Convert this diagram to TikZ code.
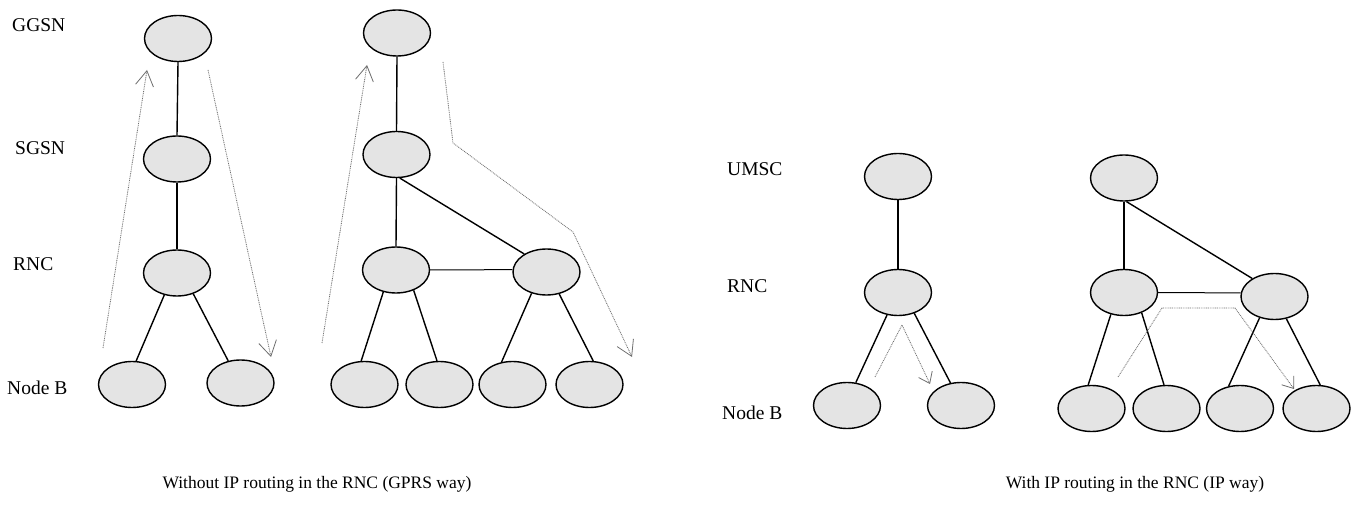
\documentclass[tikz,border=0pt]{standalone}
\usepackage{fontspec}
\setmainfont{Liberation Serif}
\usetikzlibrary{shapes.geometric,arrows.meta}
\definecolor{nodefill}{HTML}{E4E4E4}
\definecolor{flowgray}{HTML}{6E6E6E}
\begin{document}
\begin{tikzpicture}[x=1pt,y=-1pt,
  netnode/.style={ellipse,draw=black,line width=1.4pt,fill=nodefill,minimum width=67pt,minimum height=46pt,inner sep=0pt},
  link/.style={draw=black,line width=1.4pt},
  flow/.style={draw=flowgray,line width=0.8pt,dash pattern=on 0.9pt off 0.9pt,-{Straight Barb[length=15pt,width=18pt,line width=0.8pt]}},
  smallflow/.style={draw=flowgray,line width=0.8pt,dash pattern=on 0.9pt off 0.9pt,-{Straight Barb[length=10pt,width=15pt,line width=0.8pt]}},
  lbl/.style={anchor=west,inner sep=0pt,font=\fontsize{19.5}{23}\selectfont},
  captxt/.style={anchor=base,inner sep=0pt,font=\fontsize{17.5}{21}\selectfont}]
\useasboundingbox (0,0) rectangle (1360,510);
\fill[white] (0,0) rectangle (1360,510);

% ---------- labels ----------
\node[lbl] (lggsn) at (12,25) {GGSN};
\node[lbl] (lsgsn) at (15,148) {SGSN};
\node[lbl] (lrnc1) at (13,264.5) {RNC};
\node[lbl] (lnb1) at (7,388) {Node B};
\node[lbl] (lumsc) at (727,169) {UMSC};
\node[lbl] (lrnc2) at (727,286.5) {RNC};
\node[lbl] (lnb2) at (722,412.5) {Node B};

% ---------- diagram 1 ----------
\node[netnode] (a1) at (178,38.5) {};
\node[netnode] (a2) at (177,159) {};
\node[netnode] (a3) at (177,273) {};
\node[netnode] (a4) at (132,384.5) {};
\node[netnode] (a5) at (240.5,383) {};
\draw[link] (a1.south) -- (a2.north);
\draw[link] (a2.south) -- (a3.north);
\draw[link] (a3.240) -- (a4.80);
\draw[link] (a3.308) -- (a5.119);

\coordinate (f1s) at (103,348);
\coordinate (f1e) at (147,70);
\coordinate (f2s) at (208,70);
\coordinate (f2e) at (271,357);
\draw[flow] (f1s) -- (f1e);
\draw[flow] (f2s) -- (f2e);

% ---------- diagram 2 ----------
\node[netnode] (b1) at (397,33) {};
\node[netnode] (b2) at (396.5,154.5) {};
\node[netnode] (b3) at (396,270) {};
\node[netnode] (b4) at (546.5,272) {};
\node[netnode] (b5) at (364.5,384.5) {};
\node[netnode] (b6) at (439.5,384.5) {};
\node[netnode] (b7) at (512.5,384.5) {};
\node[netnode] (b8) at (589.5,384.5) {};
\draw[link] (b1.south) -- (b2.north);
\draw[link] (b2.south) -- (b3.north);
\draw[link] (b2.278) -- (b4.141);
\draw[link, line width=1pt] (b3.east) -- (b4.176);
\draw[link] (b3.240) -- (b5.98);
\draw[link] (b3.311) -- (b6.96);
\draw[link] (b4.235) -- (b7.116);
\draw[link] (b4.300) -- (b8.81);

\coordinate (f3s) at (322,343);
\coordinate (f3e) at (367,65);
\coordinate (f4s) at (443,62);
\coordinate (f4a) at (453,143);
\coordinate (f4b) at (573,232);
\coordinate (f4e) at (632,357);
\draw[flow] (f3s) -- (f3e);
\draw[flow] (f4s) -- (f4a) -- (f4b) -- (f4e);

% ---------- diagram 3 ----------
\node[netnode] (c1) at (898,176.5) {};
\node[netnode] (c2) at (898,292.5) {};
\node[netnode] (c3) at (847,405.5) {};
\node[netnode] (c4) at (961,405.5) {};
\draw[link] (c1.south) -- (c2.north);
\draw[link] (c2.244) -- (c3.69);
\draw[link] (c2.308) -- (c4.115);

\coordinate (f5s) at (875,377);
\coordinate (f5a) at (902,325);
\coordinate (f5e) at (930,384);
\draw[smallflow] (f5s) -- (f5a) -- (f5e);

% ---------- diagram 4 ----------
\node[netnode] (d1) at (1124,178) {};
\node[netnode] (d2) at (1124,292.5) {};
\node[netnode] (d3) at (1274.5,296.5) {};
\node[netnode] (d4) at (1091.5,408.5) {};
\node[netnode] (d5) at (1166.5,408.5) {};
\node[netnode] (d6) at (1240,408.5) {};
\node[netnode] (d7) at (1316.5,408.5) {};
\draw[link] (d1.south) -- (d2.north);
\draw[link] (d1.276) -- (d3.141);
\draw[link, line width=1pt] (d2.east) -- (d3.174);
\draw[link] (d2.239) -- (d4.98);
\draw[link] (d2.311) -- (d5.96);
\draw[link] (d3.235) -- (d6.117);
\draw[link] (d3.298) -- (d7.81);

\coordinate (f6s) at (1118,377);
\coordinate (f6a) at (1162,308);
\coordinate (f6b) at (1235,308);
\coordinate (f6e) at (1294,389);
\draw[smallflow] (f6s) -- (f6a) -- (f6b) -- (f6e);

% ---------- captions ----------
\node[captxt] (cap1) at (317,488) {Without IP routing in the RNC (GPRS way)};
\node[captxt] (cap2) at (1135,488) {With IP routing in the RNC (IP way)};
\end{tikzpicture}
\end{document}
